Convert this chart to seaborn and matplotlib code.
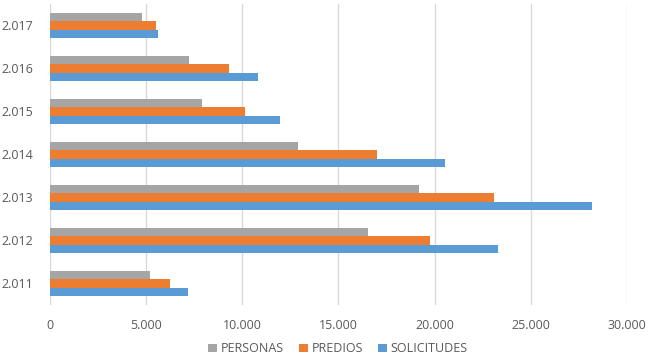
import matplotlib
matplotlib.use("Agg")
import matplotlib.pyplot as plt
import seaborn as sns
import pandas as pd
from matplotlib.ticker import FuncFormatter

years = ["2.017", "2.016", "2.015", "2.014", "2.013", "2.012", "2.011"]
personas = [4790, 7270, 7930, 12930, 19210, 16550, 5200]
predios = [5530, 9310, 10160, 17030, 23070, 19750, 6240]
solicitudes = [5630, 10840, 11960, 20520, 28190, 23310, 7200]
series = ["PERSONAS", "PREDIOS", "SOLICITUDES"]
colors = ["#A5A5A5", "#ED7D31", "#5B9BD5"]

rows = []
for name, vals in zip(series, [personas, predios, solicitudes]):
    for y, v in zip(years, vals):
        rows.append({"year": y, "serie": name, "value": v})
df = pd.DataFrame(rows)

sns.set_theme(style="white")
plt.rcParams["font.family"] = ["Open Sans", "DejaVu Sans"]

fig = plt.figure(figsize=(6.5, 3.63), dpi=100)
ax = fig.add_axes([0.0762, 0.16, 0.8884, 0.829])

sns.barplot(data=df, y="year", x="value", hue="serie", order=years,
            hue_order=series, palette=colors, orient="h", width=0.6,
            saturation=1, ax=ax, legend=True, linewidth=0)

ax.set_xlim(0, 30000)
ax.set_xticks(range(0, 30001, 5000))
ax.xaxis.set_major_formatter(FuncFormatter(lambda v, p: "0" if v == 0 else f"{int(v):,}".replace(",", ".")))
ax.grid(axis="x", color="#D9D9D9", linewidth=1)
ax.set_axisbelow(True)
for s in ax.spines.values():
    s.set_visible(False)
ax.set_xlabel("")
ax.set_ylabel("")
ax.tick_params(axis="both", length=0, labelsize=9, colors="#595959")
ax.tick_params(axis="y", pad=12)
ax.tick_params(axis="x", pad=10)

handles, labels = ax.get_legend_handles_labels()
ax.get_legend().remove()
fig.legend(handles, labels, loc="lower center", bbox_to_anchor=(0.52, -0.01),
           ncol=3, frameon=False, fontsize=9, handlelength=0.7, handleheight=0.7,
           handletextpad=0.3, columnspacing=1.2, labelcolor="#595959")

fig.savefig("out.png", dpi=100)
